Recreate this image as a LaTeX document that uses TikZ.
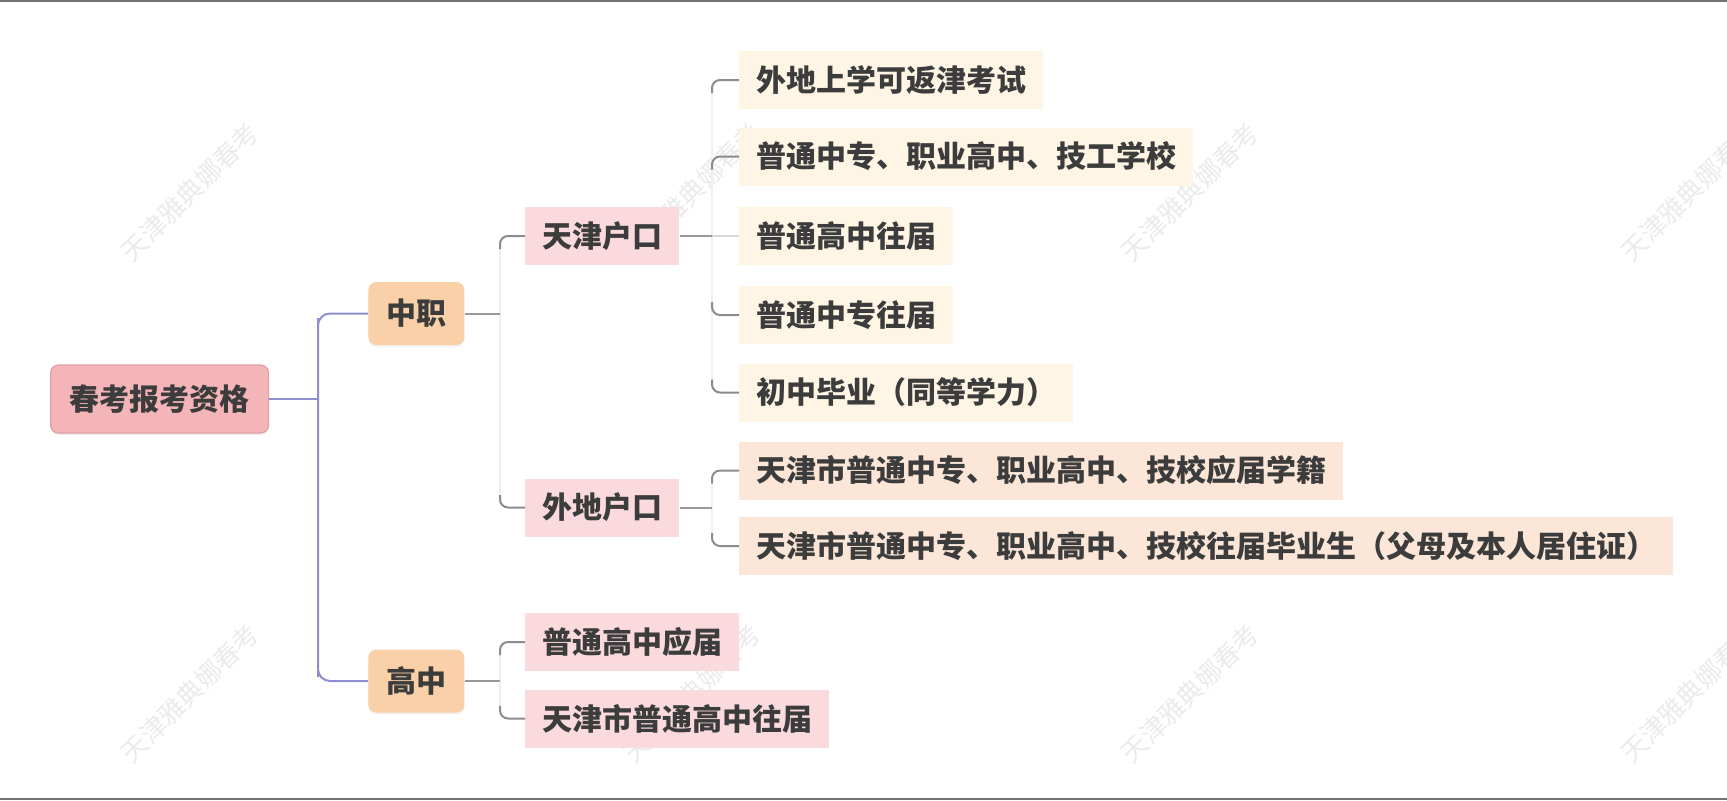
\documentclass[tikz,border=0pt]{standalone}
\usepackage{fontspec}
\newfontfamily\cjk{Noto Sans CJK SC}
\usetikzlibrary{shadows,calc}
\definecolor{txt}{HTML}{3C3C3C}
\definecolor{rootc}{HTML}{F4B5B8}
\definecolor{rootd}{HTML}{E0A0A5}
\definecolor{lonec}{HTML}{F9D0A8}
\definecolor{ltwoc}{HTML}{FBDADD}
\definecolor{leafac}{HTML}{FEF5E5}
\definecolor{leafbc}{HTML}{FBE6D8}
\definecolor{rline}{HTML}{8E8ED0}
\definecolor{rlinelt}{HTML}{C4C4DE}
\definecolor{stubc}{HTML}{9A9A9A}
\definecolor{hookc}{HTML}{8C8C8C}
\definecolor{faintc}{HTML}{EFEFEF}
\definecolor{wmc}{HTML}{EBEBEB}
\definecolor{edgec}{HTML}{737373}
\begin{document}
\begin{tikzpicture}[x=0.5pt,y=-0.5pt,
  font=\cjk\bfseries\fontsize{15pt}{18pt}\selectfont,
  base/.style={anchor=west, text=txt, inner ysep=0pt},
  rootbox/.style={base, fill=rootc, draw=rootd, line width=0.6pt, rounded corners=4pt,
     minimum height=34pt, inner xsep=9.5pt, drop shadow={opacity=0.12, shadow xshift=0pt, shadow yshift=-1pt}},
  lonebox/.style={base, fill=lonec, rounded corners=4pt, minimum height=31.5pt, inner xsep=9pt,
     drop shadow={opacity=0.10, shadow xshift=0pt, shadow yshift=-1pt}},
  ltwobox/.style={base, fill=ltwoc, minimum height=29pt, inner xsep=8.5pt},
  leafabox/.style={base, fill=leafac, minimum height=29pt, inner xsep=8.5pt},
  leafbbox/.style={base, fill=leafbc, minimum height=29pt, inner xsep=8.5pt},
  rootconn/.style={draw=rline, line width=1pt, rounded corners=6pt},
  rootconnlt/.style={draw=rlinelt, line width=1pt},
  stubline/.style={draw=stubc, line width=1pt},
  stublt/.style={draw=faintc!80!gray, line width=1pt},
  hookline/.style={draw=hookc, line width=1pt, rounded corners=4pt},
  faintline/.style={draw=faintc, line width=0.8pt},
  wm/.style={text=wmc, font=\cjk\fontsize{13pt}{15pt}\selectfont, rotate=45},
  edgebar/.style={fill=edgec}
]
\useasboundingbox (0,0) rectangle (1727,800);
\fill[white] (0,0) rectangle (1727,800);
\fill[edgebar] (0,0) rectangle (1727,1.5);
\fill[edgebar] (0,797.5) rectangle (1727,800);

% watermarks
\node[wm] (wa) at (190,192) {天津雅典娜春考};
\node[wm] (wb) at (692,192) {天津雅典娜春考};
\node[wm] (wc) at (1190,192) {天津雅典娜春考};
\node[wm] (wd2) at (1690,192) {天津雅典娜春考};
\node[wm] (we) at (190,693) {天津雅典娜春考};
\node[wm] (wf) at (692,693) {天津雅典娜春考};
\node[wm] (wg) at (1190,693) {天津雅典娜春考};
\node[wm] (wh) at (1690,693) {天津雅典娜春考};

% nodes
\node[rootbox] (root) at (50,399) {春考报考资格};
\node[lonebox] (zz) at (368,313.5) {中职};
\node[lonebox] (gz) at (368,681) {高中};
\node[ltwobox] (tj) at (525,236) {天津户口};
\node[ltwobox] (wd) at (525,507.5) {外地户口};
\node[ltwobox] (gy) at (525,642) {普通高中应届};
\node[ltwobox] (gw) at (525,718.5) {天津市普通高中往届};
\node[leafabox] (a1) at (739,80) {外地上学可返津考试};
\node[leafabox] (a2) at (739,156.5) {普通中专、职业高中、技工学校};
\node[leafabox] (a3) at (739,236) {普通高中往届};
\node[leafabox] (a4) at (739,315) {普通中专往届};
\node[leafabox] (a5) at (739,392.5) {初中毕业（同等学力）};
\node[leafbbox] (b1) at (739,470.5) {天津市普通中专、职业高中、技校应届学籍};
\node[leafbbox] (b2) at (739,546) {天津市普通中专、职业高中、技校往届毕业生（父母及本人居住证）};

% root connectors
\coordinate (rj) at (318,399);
\draw[rootconn] (root.east) -- (rj);
\draw[rootconn] (rj) -- (318,330) |- (zz.west);
\draw[rootconn] (rj) -- (318,665) |- (gz.west);

% level 1 -> level 2
\coordinate (zzj) at (500,313.5);
\coordinate (gzj) at (500,681);
\coordinate (tjh) at (500,249);
\coordinate (wdh) at (500,495);
\coordinate (gyh) at (500,655);
\coordinate (gwh) at (500,706);
\draw[faintline] (tjh) -- (wdh);
\draw[faintline] (gyh) -- (gwh);
\draw[stubline] (zz.east) -- (zzj);
\draw[stubline] (gz.east) -- (gzj);
\draw[hookline] (tjh) |- (tj.west);
\draw[hookline] (wdh) |- (wd.west);
\draw[hookline] (gyh) |- (gy.west);
\draw[hookline] (gwh) |- (gw.west);

% level 2 -> leaves
\coordinate (tjj) at (712,236);
\coordinate (wdj) at (712,507.5);
\coordinate (a1h) at (712,93);
\coordinate (a2h) at (712,169.5);
\coordinate (a4h) at (712,302);
\coordinate (a5h) at (712,379.5);
\coordinate (b1h) at (712,483.5);
\coordinate (b2h) at (712,533);
\draw[faintline] (a1h) -- (a5h);
\draw[faintline] (b1h) -- (b2h);
\draw[stubline] (tj.east) -- (tjj);
\draw[stublt] (tjj) -- (a3.west);
\draw[stubline] (wd.east) -- (wdj);
\draw[hookline] (a1h) |- (a1.west);
\draw[hookline] (a2h) |- (a2.west);
\draw[hookline] (a4h) |- (a4.west);
\draw[hookline] (a5h) |- (a5.west);
\draw[hookline] (b1h) |- (b1.west);
\draw[hookline] (b2h) |- (b2.west);
\end{tikzpicture}
\end{document}
